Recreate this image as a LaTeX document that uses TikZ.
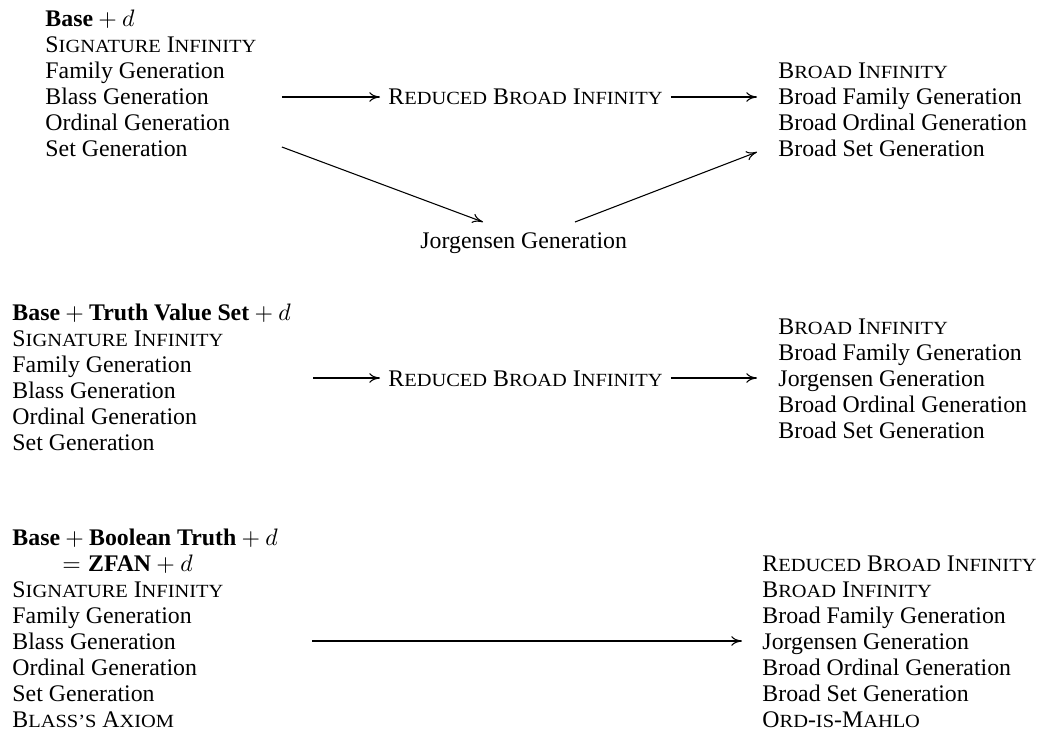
\documentclass[tikz,border=0pt]{standalone}
\usepackage{fontspec}
\setmainfont{Liberation Serif}
\newfontfamily\scfont[Scale=0.78,FakeStretch=1.1]{Liberation Serif}
\usetikzlibrary{arrows.meta,calc}
\newcommand\fsc[2]{#1{\scfont #2}}
\newcommand\colA[1]{\begin{tabular}[t]{@{}l@{}}#1\end{tabular}}
\begin{document}
\begin{tikzpicture}[x=0.42pt,y=-0.42pt,
  col/.style={anchor=base west, inner sep=0pt, font=\fontsize{10}{10.92}\selectfont},
  arr/.style={-{Computer Modern Rightarrow[length=4.5pt,width=4pt]}, line width=0.45pt}]
\useasboundingbox (0,0) rectangle (1049,753);
% ---------- block 1
\node[col] (L1) at (45,26) {\colA{\textbf{Base}${}+d$\\ \fsc{S}{IGNATURE} \fsc{I}{NFINITY}\\ Family Generation\\ Blass Generation\\ Ordinal Generation\\ Set Generation}};
\node[col] (red1) at (388,104) {\fsc{R}{EDUCED} \fsc{B}{ROAD} \fsc{I}{NFINITY}};
\node[col] (R1) at (778,78) {\colA{\fsc{B}{ROAD} \fsc{I}{NFINITY}\\ Broad Family Generation\\ Broad Ordinal Generation\\ Broad Set Generation}};
\node[col] (J1) at (420,248) {Jorgensen Generation};
\draw[arr] ($(L1.east |- 0,97)+(25,0)$) -- ($(red1.west |- 0,97)+(-8,0)$);
\draw[arr] ($(red1.east |- 0,97)+(8,0)$) -- ($(R1.west |- 0,97)+(-21,0)$);
\draw[arr] ($(L1.east |- 0,147)+(25,0)$) -- ($(J1.base west)+(63,-26)$);
\draw[arr] ($(J1.base west)+(155,-26)$) -- ($(R1.west |- 0,152)+(-21,0)$);
% ---------- block 2
\node[col] (L2) at (12,320) {\colA{\textbf{Base}${}+{}$\textbf{Truth Value Set}${}+d$\\ \fsc{S}{IGNATURE} \fsc{I}{NFINITY}\\ Family Generation\\ Blass Generation\\ Ordinal Generation\\ Set Generation}};
\node[col] (red2) at (388,386) {\fsc{R}{EDUCED} \fsc{B}{ROAD} \fsc{I}{NFINITY}};
\node[col] (R2) at (778,334) {\colA{\fsc{B}{ROAD} \fsc{I}{NFINITY}\\ Broad Family Generation\\ Jorgensen Generation\\ Broad Ordinal Generation\\ Broad Set Generation}};
\draw[arr] ($(L2.east |- 0,378)+(22,0)$) -- ($(red2.west |- 0,378)+(-8,0)$);
\draw[arr] ($(red2.east |- 0,378)+(8,0)$) -- ($(R2.west |- 0,378)+(-21,0)$);
% ---------- block 3
\node[col] (L3) at (12,545) {\colA{\textbf{Base}${}+{}$\textbf{Boolean Truth}${}+d$\\ \hspace*{21pt}$=$\hspace{3pt}\textbf{ZFAN}${}+d$\\ \fsc{S}{IGNATURE} \fsc{I}{NFINITY}\\ Family Generation\\ Blass Generation\\ Ordinal Generation\\ Set Generation\\ \fsc{B}{LASS’S} \fsc{A}{XIOM}}};
\node[col] (R3) at (762,571) {\colA{\fsc{R}{EDUCED} \fsc{B}{ROAD} \fsc{I}{NFINITY}\\ \fsc{B}{ROAD} \fsc{I}{NFINITY}\\ Broad Family Generation\\ Jorgensen Generation\\ Broad Ordinal Generation\\ Broad Set Generation\\ \fsc{O}{RD}-{\scfont IS}-\fsc{M}{AHLO}}};
\draw[arr] ($(L3.east |- 0,641)+(34,0)$) -- ($(R3.west |- 0,641)+(-20,0)$);
\end{tikzpicture}
\end{document}
